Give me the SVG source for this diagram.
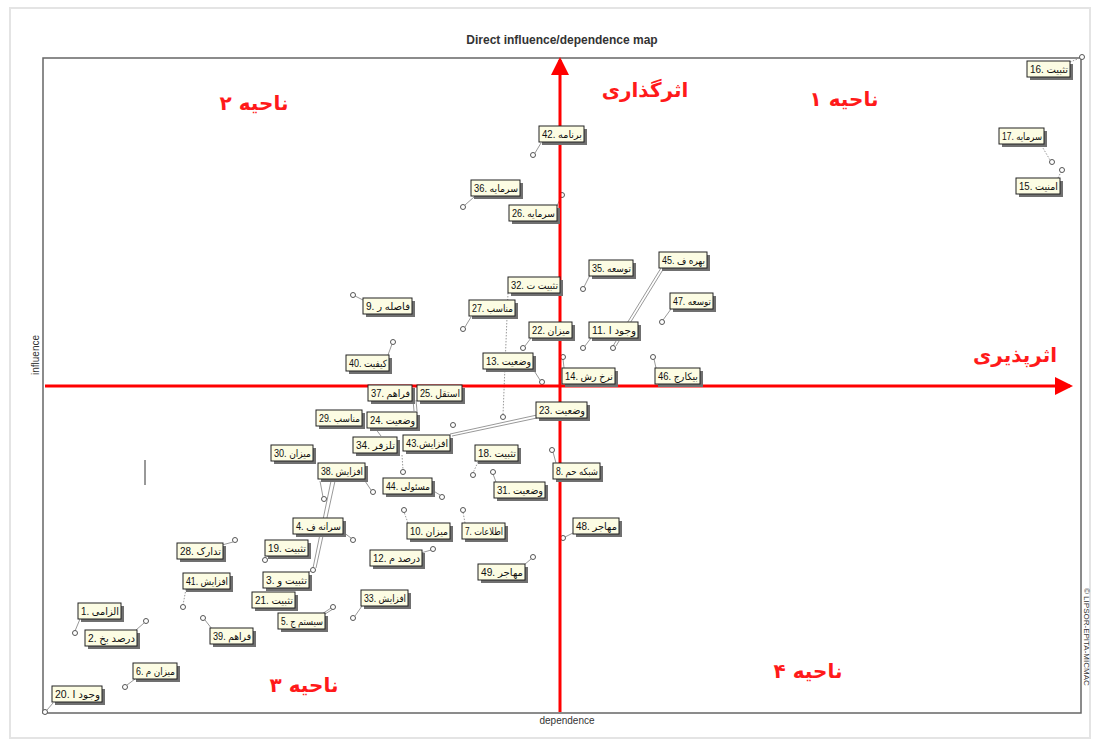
<svg xmlns="http://www.w3.org/2000/svg" width="1095" height="745" viewBox="0 0 1095 745">
<style>
.sh{fill:#707070}
.bx{fill:#fcfce3;stroke:#222;stroke-width:1}
.lt{font-family:"Liberation Sans","DejaVu Sans",sans-serif;font-size:10px;fill:#111}
.pt{fill:#fff;stroke:#555;stroke-width:1}
.cn{stroke:#999;stroke-width:1;fill:none}
.cd{stroke:#999;stroke-width:1;stroke-dasharray:1.5 1.5;fill:none}
.ax{stroke:#ff0000;stroke-width:3;fill:none}
.rt{font-family:"DejaVu Sans",sans-serif;font-weight:bold;font-size:20px;fill:#ff1a1a;text-anchor:middle}
.gt{font-family:"Liberation Sans",sans-serif;fill:#333}
</style>
<defs>
<marker id="ah" markerWidth="6" markerHeight="6" refX="5" refY="3" orient="auto" markerUnits="strokeWidth"><path d="M0,0 L6,3 L0,6 Z" fill="#ff0000"/></marker>
</defs>
<rect width="1095" height="745" fill="#fff"/>
<rect x="10" y="8" width="1080" height="730" fill="none" stroke="#e4e4e4" stroke-width="2"/>
<text class="gt" x="562" y="44" font-size="12" font-weight="bold" text-anchor="middle">Direct influence/dependence map</text>
<rect x="43" y="58" width="1038" height="655" fill="none" stroke="#666" stroke-width="1.5"/>
<text class="gt" x="0" y="0" font-size="10" text-anchor="middle" transform="translate(39,355) rotate(-90)">influence</text>
<text class="gt" x="567" y="724" font-size="10" text-anchor="middle">dependence</text>
<text class="gt" x="0" y="0" font-size="8" transform="translate(1084,588) rotate(90)">© LIPSOR-EPITA-MICMAC</text>
<line x1="145" y1="460" x2="145" y2="485" stroke="#333" stroke-width="1"/>

<g id="connectors">
<line class="cn" x1="80" y1="619" x2="75" y2="631"/>
<line class="cn" x1="136" y1="630" x2="144" y2="623"/>
<line class="cn" x1="135" y1="679" x2="127" y2="685"/>
<line class="cn" x1="53" y1="703" x2="47" y2="710"/>
<line class="cn" x1="222" y1="545" x2="233" y2="542"/>
<line class="cd" x1="186" y1="589" x2="183" y2="605"/>
<line class="cn" x1="212" y1="629" x2="205" y2="620"/>
<line class="cd" x1="268" y1="556" x2="265" y2="558"/>
<line class="cn" x1="307" y1="573" x2="311" y2="571"/>
<line class="cn" x1="313" y1="568" x2="331" y2="481"/>
<line class="cn" x1="316" y1="568" x2="335" y2="481"/>
<line class="cn" x1="322" y1="614" x2="331" y2="608"/>
<line class="cn" x1="325" y1="614" x2="333" y2="609"/>
<line class="cn" x1="362" y1="606" x2="355" y2="616"/>
<line class="cn" x1="343" y1="532" x2="351" y2="538"/>
<line class="cn" x1="421" y1="553" x2="431" y2="550"/>
<line class="cd" x1="408" y1="523" x2="404" y2="512"/>
<line class="cd" x1="465" y1="523" x2="463" y2="512"/>
<line class="cn" x1="524" y1="565" x2="531" y2="559"/>
<line class="cn" x1="573" y1="533" x2="565" y2="537"/>
<line class="cn" x1="365" y1="481" x2="371" y2="490"/>
<line class="cn" x1="432" y1="490" x2="440" y2="495"/>
<line class="cn" x1="320" y1="481" x2="323" y2="497"/>
<line class="cd" x1="402" y1="455" x2="403" y2="470"/>
<line class="cd" x1="478" y1="462" x2="473" y2="473"/>
<line class="cn" x1="496" y1="482" x2="493" y2="474"/>
<line class="cn" x1="556" y1="463" x2="553" y2="452"/>
<line class="cn" x1="537" y1="418" x2="452" y2="436"/>
<line class="cn" x1="537" y1="415" x2="450" y2="434"/>
<line class="cn" x1="413" y1="400" x2="414" y2="411"/>
<line class="cn" x1="416" y1="400" x2="417" y2="411"/>
<line class="cn" x1="375" y1="428" x2="381" y2="436"/>
<line class="cn" x1="533" y1="369" x2="540" y2="380"/>
<line class="cn" x1="388" y1="355" x2="392" y2="344"/>
<line class="cn" x1="363" y1="300" x2="355" y2="296"/>
<line class="cn" x1="471" y1="317" x2="465" y2="327"/>
<line class="cn" x1="531" y1="338" x2="525" y2="346"/>
<line class="cd" x1="508" y1="293" x2="503" y2="415"/>
<line class="cn" x1="564" y1="368" x2="563" y2="359"/>
<line class="cn" x1="656" y1="368" x2="654" y2="359"/>
<line class="cn" x1="591" y1="338" x2="585" y2="346"/>
<line class="cn" x1="661" y1="268" x2="613" y2="346"/>
<line class="cn" x1="664" y1="268" x2="616" y2="346"/>
<line class="cn" x1="671" y1="309" x2="663" y2="320"/>
<line class="cn" x1="590" y1="275" x2="584" y2="287"/>
<line class="cn" x1="541" y1="143" x2="535" y2="153"/>
<line class="cn" x1="474" y1="197" x2="465" y2="205"/>
<line class="cn" x1="557" y1="206" x2="561" y2="197"/>
<line class="cd" x1="1070" y1="62" x2="1080" y2="58"/>
<line class="cd" x1="1040" y1="143" x2="1050" y2="160"/>
<line class="cd" x1="1058" y1="178" x2="1061" y2="172"/>
</g>

<g id="points">
<circle class="pt" cx="75" cy="633" r="2.5"/>
<circle class="pt" cx="146" cy="621" r="2.5"/>
<circle class="pt" cx="125" cy="687" r="2.5"/>
<circle class="pt" cx="45" cy="712" r="2.5"/>
<circle class="pt" cx="235" cy="540" r="2.5"/>
<circle class="pt" cx="183" cy="607" r="2.5"/>
<circle class="pt" cx="203" cy="618" r="2.5"/>
<circle class="pt" cx="265" cy="560" r="2.5"/>
<circle class="pt" cx="313" cy="570" r="2.5"/>
<circle class="pt" cx="333" cy="607" r="2.5"/>
<circle class="pt" cx="353" cy="618" r="2.5"/>
<circle class="pt" cx="353" cy="540" r="2.5"/>
<circle class="pt" cx="433" cy="549" r="2.5"/>
<circle class="pt" cx="404" cy="510" r="2.5"/>
<circle class="pt" cx="463" cy="510" r="2.5"/>
<circle class="pt" cx="533" cy="557" r="2.5"/>
<circle class="pt" cx="563" cy="538" r="2.5"/>
<circle class="pt" cx="373" cy="492" r="2.5"/>
<circle class="pt" cx="442" cy="497" r="2.5"/>
<circle class="pt" cx="324" cy="499" r="2.5"/>
<circle class="pt" cx="403" cy="472" r="2.5"/>
<circle class="pt" cx="473" cy="475" r="2.5"/>
<circle class="pt" cx="493" cy="472" r="2.5"/>
<circle class="pt" cx="552" cy="450" r="2.5"/>
<circle class="pt" cx="453" cy="425" r="2.5"/>
<circle class="pt" cx="542" cy="382" r="2.5"/>
<circle class="pt" cx="393" cy="342" r="2.5"/>
<circle class="pt" cx="353" cy="295" r="2.5"/>
<circle class="pt" cx="463" cy="329" r="2.5"/>
<circle class="pt" cx="523" cy="348" r="2.5"/>
<circle class="pt" cx="503" cy="417" r="2.5"/>
<circle class="pt" cx="563" cy="357" r="2.5"/>
<circle class="pt" cx="653" cy="357" r="2.5"/>
<circle class="pt" cx="583" cy="348" r="2.5"/>
<circle class="pt" cx="613" cy="348" r="2.5"/>
<circle class="pt" cx="662" cy="322" r="2.5"/>
<circle class="pt" cx="583" cy="289" r="2.5"/>
<circle class="pt" cx="533" cy="155" r="2.5"/>
<circle class="pt" cx="463" cy="207" r="2.5"/>
<circle class="pt" cx="562" cy="195" r="2.5"/>
<circle class="pt" cx="1082" cy="57" r="2.5"/>
<circle class="pt" cx="1052" cy="162" r="2.5"/>
<circle class="pt" cx="1062" cy="170" r="2.5"/>
</g>

<g id="axes">
<line class="ax" x1="560" y1="712" x2="560" y2="60" marker-end="url(#ah)"/>
<line class="ax" x1="45" y1="386" x2="1070" y2="386" marker-end="url(#ah)"/>
</g>

<g id="labels">
<g id="n1"><rect class="sh" x="81" y="606" width="43" height="16"/><rect class="bx" x="78" y="603" width="43" height="16"/><text class="lt" x="81" y="615" textLength="38" lengthAdjust="spacingAndGlyphs">1. الزامی</text></g>
<g id="n2"><rect class="sh" x="88" y="633" width="52" height="16"/><rect class="bx" x="85" y="630" width="52" height="16"/><text class="lt" x="88" y="642" textLength="47" lengthAdjust="spacingAndGlyphs">2. درصد بخ</text></g>
<g id="n6"><rect class="sh" x="136" y="666" width="44" height="16"/><rect class="bx" x="133" y="663" width="44" height="16"/><text class="lt" x="136" y="675" textLength="39" lengthAdjust="spacingAndGlyphs">6. میزان م</text></g>
<g id="n20"><rect class="sh" x="55" y="689" width="50" height="16"/><rect class="bx" x="52" y="686" width="50" height="16"/><text class="lt" x="55" y="698" textLength="45" lengthAdjust="spacingAndGlyphs">20. وجود ا</text></g>
<g id="n28"><rect class="sh" x="180" y="546" width="46" height="16"/><rect class="bx" x="177" y="543" width="46" height="16"/><text class="lt" x="180" y="555" textLength="41" lengthAdjust="spacingAndGlyphs">28. تدارک</text></g>
<g id="n41"><rect class="sh" x="186" y="576" width="47" height="16"/><rect class="bx" x="183" y="573" width="47" height="16"/><text class="lt" x="186" y="585" textLength="42" lengthAdjust="spacingAndGlyphs">41. افزایش</text></g>
<g id="n39"><rect class="sh" x="213" y="631" width="43" height="16"/><rect class="bx" x="210" y="628" width="43" height="16"/><text class="lt" x="213" y="640" textLength="38" lengthAdjust="spacingAndGlyphs">39. فراهم</text></g>
<g id="n19"><rect class="sh" x="268" y="543" width="43" height="16"/><rect class="bx" x="265" y="540" width="43" height="16"/><text class="lt" x="268" y="552" textLength="38" lengthAdjust="spacingAndGlyphs">19. تثبیت</text></g>
<g id="n3"><rect class="sh" x="266" y="575" width="46" height="16"/><rect class="bx" x="263" y="572" width="46" height="16"/><text class="lt" x="266" y="584" textLength="41" lengthAdjust="spacingAndGlyphs">3. تثبیت و</text></g>
<g id="n21"><rect class="sh" x="255" y="595" width="43" height="16"/><rect class="bx" x="252" y="592" width="43" height="16"/><text class="lt" x="255" y="604" textLength="38" lengthAdjust="spacingAndGlyphs">21. تثبیت</text></g>
<g id="n5"><rect class="sh" x="281" y="616" width="47" height="16"/><rect class="bx" x="278" y="613" width="47" height="16"/><text class="lt" x="281" y="625" textLength="42" lengthAdjust="spacingAndGlyphs">5. سیستم ج</text></g>
<g id="n33"><rect class="sh" x="364" y="593" width="47" height="16"/><rect class="bx" x="361" y="590" width="47" height="16"/><text class="lt" x="364" y="602" textLength="42" lengthAdjust="spacingAndGlyphs">33. افزایش</text></g>
<g id="n4"><rect class="sh" x="296" y="521" width="50" height="16"/><rect class="bx" x="293" y="518" width="50" height="16"/><text class="lt" x="296" y="530" textLength="45" lengthAdjust="spacingAndGlyphs">4. سرانه ف</text></g>
<g id="n12"><rect class="sh" x="373" y="553" width="52" height="16"/><rect class="bx" x="370" y="550" width="52" height="16"/><text class="lt" x="373" y="562" textLength="47" lengthAdjust="spacingAndGlyphs">12. درصد م</text></g>
<g id="n10"><rect class="sh" x="410" y="526" width="43" height="16"/><rect class="bx" x="407" y="523" width="43" height="16"/><text class="lt" x="410" y="535" textLength="38" lengthAdjust="spacingAndGlyphs">10. میزان</text></g>
<g id="n7"><rect class="sh" x="465" y="526" width="43" height="16"/><rect class="bx" x="462" y="523" width="43" height="16"/><text class="lt" x="465" y="535" textLength="38" lengthAdjust="spacingAndGlyphs">7. اطلاعات</text></g>
<g id="n49"><rect class="sh" x="481" y="567" width="47" height="16"/><rect class="bx" x="478" y="564" width="47" height="16"/><text class="lt" x="481" y="576" textLength="42" lengthAdjust="spacingAndGlyphs">49. مهاجر</text></g>
<g id="n48"><rect class="sh" x="576" y="521" width="46" height="16"/><rect class="bx" x="573" y="518" width="46" height="16"/><text class="lt" x="576" y="530" textLength="41" lengthAdjust="spacingAndGlyphs">48. مهاجر</text></g>
<g id="n44"><rect class="sh" x="386" y="481" width="49" height="16"/><rect class="bx" x="383" y="478" width="49" height="16"/><text class="lt" x="386" y="490" textLength="44" lengthAdjust="spacingAndGlyphs">44. مسئولی</text></g>
<g id="n31"><rect class="sh" x="497" y="485" width="51" height="16"/><rect class="bx" x="494" y="482" width="51" height="16"/><text class="lt" x="497" y="494" textLength="46" lengthAdjust="spacingAndGlyphs">31. وضعیت</text></g>
<g id="n18"><rect class="sh" x="478" y="448" width="43" height="16"/><rect class="bx" x="475" y="445" width="43" height="16"/><text class="lt" x="478" y="457" textLength="38" lengthAdjust="spacingAndGlyphs">18. تثبیت</text></g>
<g id="n8"><rect class="sh" x="556" y="466" width="47" height="16"/><rect class="bx" x="553" y="463" width="47" height="16"/><text class="lt" x="556" y="475" textLength="42" lengthAdjust="spacingAndGlyphs">8. شبکه حم</text></g>
<g id="n30"><rect class="sh" x="274" y="448" width="42" height="16"/><rect class="bx" x="271" y="445" width="42" height="16"/><text class="lt" x="274" y="457" textLength="37" lengthAdjust="spacingAndGlyphs">30. میزان</text></g>
<g id="n38"><rect class="sh" x="321" y="466" width="47" height="16"/><rect class="bx" x="318" y="463" width="47" height="16"/><text class="lt" x="321" y="475" textLength="42" lengthAdjust="spacingAndGlyphs">38. افزایش</text></g>
<g id="n34"><rect class="sh" x="356" y="440" width="44" height="16"/><rect class="bx" x="353" y="437" width="44" height="16"/><text class="lt" x="356" y="449" textLength="39" lengthAdjust="spacingAndGlyphs">34. تلزفر</text></g>
<g id="n43"><rect class="sh" x="406" y="438" width="47" height="16"/><rect class="bx" x="403" y="435" width="47" height="16"/><text class="lt" x="406" y="447" textLength="42" lengthAdjust="spacingAndGlyphs">43.افزایش</text></g>
<g id="n29"><rect class="sh" x="319" y="413" width="46" height="16"/><rect class="bx" x="316" y="410" width="46" height="16"/><text class="lt" x="319" y="422" textLength="41" lengthAdjust="spacingAndGlyphs">29. مناسب</text></g>
<g id="n24"><rect class="sh" x="370" y="415" width="50" height="16"/><rect class="bx" x="367" y="412" width="50" height="16"/><text class="lt" x="370" y="424" textLength="45" lengthAdjust="spacingAndGlyphs">24. وضعیت</text></g>
<g id="n23"><rect class="sh" x="539" y="405" width="51" height="16"/><rect class="bx" x="536" y="402" width="51" height="16"/><text class="lt" x="539" y="414" textLength="46" lengthAdjust="spacingAndGlyphs">23. وضعیت</text></g>
<g id="n37"><rect class="sh" x="371" y="388" width="44" height="16"/><rect class="bx" x="368" y="385" width="44" height="16"/><text class="lt" x="371" y="397" textLength="39" lengthAdjust="spacingAndGlyphs">37. فراهم</text></g>
<g id="n25"><rect class="sh" x="420" y="388" width="45" height="16"/><rect class="bx" x="417" y="385" width="45" height="16"/><text class="lt" x="420" y="397" textLength="40" lengthAdjust="spacingAndGlyphs">25. استقل</text></g>
<g id="n13"><rect class="sh" x="486" y="356" width="50" height="16"/><rect class="bx" x="483" y="353" width="50" height="16"/><text class="lt" x="486" y="365" textLength="45" lengthAdjust="spacingAndGlyphs">13. وضعیت</text></g>
<g id="n40"><rect class="sh" x="349" y="358" width="43" height="16"/><rect class="bx" x="346" y="355" width="43" height="16"/><text class="lt" x="349" y="367" textLength="38" lengthAdjust="spacingAndGlyphs">40. کیفیت</text></g>
<g id="n9"><rect class="sh" x="366" y="301" width="49" height="16"/><rect class="bx" x="363" y="298" width="49" height="16"/><text class="lt" x="366" y="310" textLength="44" lengthAdjust="spacingAndGlyphs">9. فاصله ر</text></g>
<g id="n27"><rect class="sh" x="472" y="303" width="46" height="16"/><rect class="bx" x="469" y="300" width="46" height="16"/><text class="lt" x="472" y="312" textLength="41" lengthAdjust="spacingAndGlyphs">27. مناسب</text></g>
<g id="n22"><rect class="sh" x="532" y="325" width="43" height="16"/><rect class="bx" x="529" y="322" width="43" height="16"/><text class="lt" x="532" y="334" textLength="38" lengthAdjust="spacingAndGlyphs">22. میزان</text></g>
<g id="n32"><rect class="sh" x="511" y="280" width="52" height="16"/><rect class="bx" x="508" y="277" width="52" height="16"/><text class="lt" x="511" y="289" textLength="47" lengthAdjust="spacingAndGlyphs">32. تثبیت ت</text></g>
<g id="n14"><rect class="sh" x="565" y="371" width="53" height="16"/><rect class="bx" x="562" y="368" width="53" height="16"/><text class="lt" x="565" y="380" textLength="48" lengthAdjust="spacingAndGlyphs">14. نرخ رش</text></g>
<g id="n46"><rect class="sh" x="658" y="371" width="45" height="16"/><rect class="bx" x="655" y="368" width="45" height="16"/><text class="lt" x="658" y="380" textLength="40" lengthAdjust="spacingAndGlyphs">46. بیکارج</text></g>
<g id="n11"><rect class="sh" x="592" y="325" width="49" height="16"/><rect class="bx" x="589" y="322" width="49" height="16"/><text class="lt" x="592" y="334" textLength="44" lengthAdjust="spacingAndGlyphs">11. وجود ا</text></g>
<g id="n45"><rect class="sh" x="662" y="255" width="48" height="16"/><rect class="bx" x="659" y="252" width="48" height="16"/><text class="lt" x="662" y="264" textLength="43" lengthAdjust="spacingAndGlyphs">45. بهره ف</text></g>
<g id="n47"><rect class="sh" x="673" y="296" width="43" height="16"/><rect class="bx" x="670" y="293" width="43" height="16"/><text class="lt" x="673" y="305" textLength="38" lengthAdjust="spacingAndGlyphs">47. توسعه</text></g>
<g id="n35"><rect class="sh" x="592" y="263" width="44" height="16"/><rect class="bx" x="589" y="260" width="44" height="16"/><text class="lt" x="592" y="272" textLength="39" lengthAdjust="spacingAndGlyphs">35. توسعه</text></g>
<g id="n42"><rect class="sh" x="542" y="129" width="45" height="16"/><rect class="bx" x="539" y="126" width="45" height="16"/><text class="lt" x="542" y="138" textLength="40" lengthAdjust="spacingAndGlyphs">42. برنامه</text></g>
<g id="n36"><rect class="sh" x="474" y="183" width="49" height="16"/><rect class="bx" x="471" y="180" width="49" height="16"/><text class="lt" x="474" y="192" textLength="44" lengthAdjust="spacingAndGlyphs">36. سرمایه</text></g>
<g id="n26"><rect class="sh" x="512" y="208" width="48" height="16"/><rect class="bx" x="509" y="205" width="48" height="16"/><text class="lt" x="512" y="217" textLength="43" lengthAdjust="spacingAndGlyphs">26. سرمایه</text></g>
<g id="n16"><rect class="sh" x="1030" y="64" width="43" height="16"/><rect class="bx" x="1027" y="61" width="43" height="16"/><text class="lt" x="1030" y="73" textLength="38" lengthAdjust="spacingAndGlyphs">16. تثبیت</text></g>
<g id="n17"><rect class="sh" x="1002" y="131" width="45" height="16"/><rect class="bx" x="999" y="128" width="45" height="16"/><text class="lt" x="1002" y="140" textLength="40" lengthAdjust="spacingAndGlyphs">17. سرمایه</text></g>
<g id="n15"><rect class="sh" x="1019" y="181" width="44" height="16"/><rect class="bx" x="1016" y="178" width="44" height="16"/><text class="lt" x="1019" y="190" textLength="39" lengthAdjust="spacingAndGlyphs">15. امنیت</text></g>
</g>

<g id="regions">
<text class="rt" x="645" y="97">اثرگذاری</text>
<text class="rt" x="844" y="106">ناحیه ۱</text>
<text class="rt" x="254" y="110">ناحیه ۲</text>
<text class="rt" x="1015" y="362">اثرپذیری</text>
<text class="rt" x="304" y="692">ناحیه ۳</text>
<text class="rt" x="808" y="678">ناحیه ۴</text>
</g>
</svg>
